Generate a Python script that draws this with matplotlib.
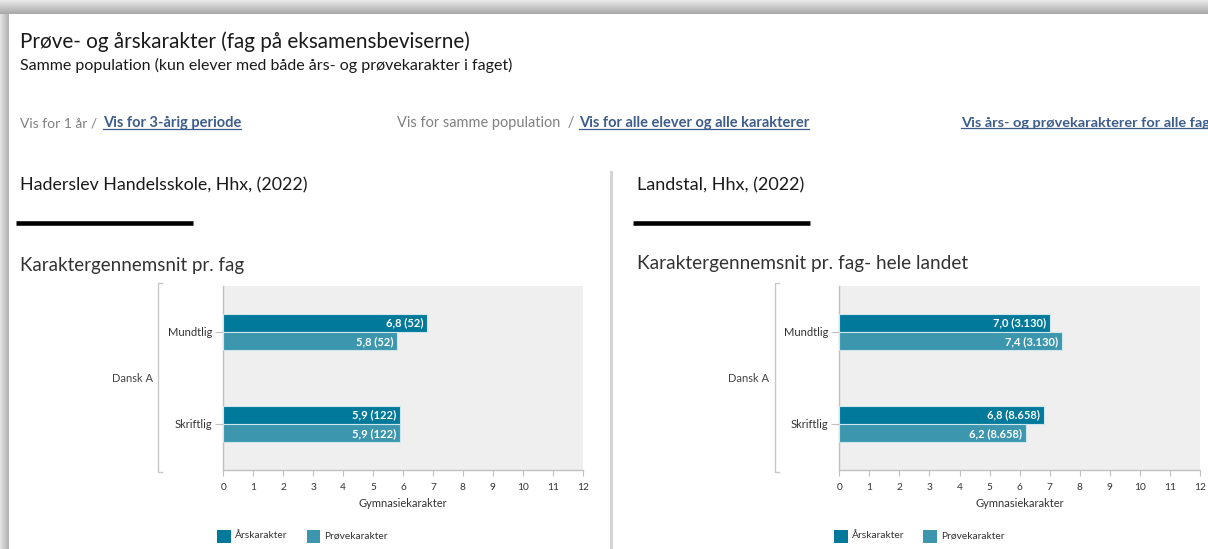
import numpy as np
import matplotlib
matplotlib.use("Agg")
import matplotlib.pyplot as plt
from matplotlib.patches import Rectangle
from matplotlib.lines import Line2D

# ---------------- data ----------------
categories = ["Mundtlig", "Skriftlig"]
group_label = "Dansk A"
series_names = ["Årskarakter", "Prøvekarakter"]

local_ars = [6.8, 5.9]
local_prove = [5.8, 5.9]
local_n = [52, 122]

land_ars = [7.0, 6.8]
land_prove = [7.4, 6.2]
land_n = [3130, 8658]

x_ticks = list(range(0, 13))
x_label = "Gymnasiekarakter"

title = "Prøve- og årskarakter (fag på eksamensbeviserne)"
subtitle = "Samme population (kun elever med både års- og prøvekarakter i faget)"
left_head = "Haderslev Handelsskole, Hhx, (2022)"
right_head = "Landstal, Hhx, (2022)"
left_chart_title = "Karaktergennemsnit pr. fag"
right_chart_title = "Karaktergennemsnit pr. fag- hele landet"

C_ARS = "#01799a"
C_PROVE = "#3c97ae"
C_LINK = "#3d5d8c"
C_GRAY = "#808080"
FONT = "Lato"

W, H = 1208, 549
plt.rcParams["font.family"] = [FONT, "DejaVu Sans"]
fig = plt.figure(figsize=(W / 100, H / 100), dpi=100)
fig.patch.set_facecolor("white")


def fx(x):
    return x / W


def fy(y):
    return 1 - y / H


renderer = fig.canvas.get_renderer()


def put_text(x, y, s, target_w=None, size=12, color="#222222", weight="normal",
             ha="left", underline=False):
    t = fig.text(fx(x), fy(y), s, fontsize=size, color=color, fontweight=weight,
                 ha=ha, va="center")
    if target_w is not None:
        bb = t.get_window_extent(renderer)
        t.set_fontsize(size * target_w / bb.width)
    if underline:
        bb = t.get_window_extent(renderer)
        yl = bb.y0 + 1.0
        fig.add_artist(Line2D([bb.x0 / W, bb.x1 / W], [yl / H, yl / H],
                              transform=fig.transFigure, color=color, lw=0.9))
    return t


# ---------------- screenshot shadow frame ----------------
ax_top = fig.add_axes([0, fy(14), 1, 14 / H])
ax_top.imshow(np.linspace(0.91, 0.66, 14)[:, None] * np.ones((14, 10)),
              cmap="gray", vmin=0, vmax=1, aspect="auto",
              extent=[0, 1, 0, 1], origin="upper")
ax_top.axis("off")
ax_left = fig.add_axes([0, 0, fx(9), fy(14)])
ax_left.imshow(np.ones((10, 9)) * np.linspace(0.88, 0.70, 9)[None, :],
               cmap="gray", vmin=0, vmax=1, aspect="auto",
               extent=[0, 1, 0, 1])
ax_left.axis("off")

# ---------------- page texts ----------------
put_text(20, 42, title, target_w=446, color="#1a1a1a")
put_text(20, 65, subtitle, target_w=490, color="#1a1a1a")

put_text(20, 123, "Vis for 1 år /", target_w=77, color=C_GRAY)
put_text(103, 123, "Vis for 3-årig periode", target_w=137, color=C_LINK,
         weight="bold", underline=True)
put_text(397, 123, "Vis for samme population  /", target_w=176, color=C_GRAY)
put_text(579, 123, "Vis for alle elever og alle karakterer", target_w=229,
         color=C_LINK, weight="bold", underline=True)
put_text(961, 123, "Vis års- og prøvekarakterer for alle fag", target_w=246,
         color=C_LINK, weight="bold", underline=True)

put_text(20, 185, left_head, target_w=287, color="#1a1a1a")
put_text(637, 185, right_head, target_w=166, color="#1a1a1a")
put_text(20, 265, left_chart_title, target_w=223, color="#333333")
put_text(637, 264, right_chart_title, target_w=329, color="#333333")

# black heading rules
for x0, x1 in [(16, 193), (633, 810)]:
    fig.add_artist(Line2D([fx(x0), fx(x1)], [fy(223), fy(223)],
                          transform=fig.transFigure, color="black", lw=3.3,
                          solid_capstyle="butt"))
# vertical divider
fig.add_artist(Line2D([fx(611), fx(611)], [fy(172), fy(549)],
                      transform=fig.transFigure, color="#d4d4d4", lw=2.2))


# ---------------- charts ----------------
def draw_chart(x_left, x_right, ars, prove, ns, bracket_x, group_x,
               leg_x):
    top, bottom = 286, 470
    ax = fig.add_axes([fx(x_left), fy(bottom), (x_right - x_left) / W,
                       (bottom - top) / H])
    ax.set_facecolor("#efefef")
    y = np.arange(len(categories))
    bh = 0.2
    ax.barh(y - bh / 2, ars, height=bh, color=C_ARS, edgecolor="#cfe6ec",
            linewidth=0.8, zorder=3)
    ax.barh(y + bh / 2, prove, height=bh, color=C_PROVE, edgecolor="#cfe6ec",
            linewidth=0.8, zorder=3)
    for yi, v, n in zip(y, ars, ns):
        lab = f"{v:.1f}".replace(".", ",") + " (" + f"{n:,}".replace(",", ".") + ")"
        ax.text(v - 0.12, yi - bh / 2, lab, ha="right", va="center",
                color="white", fontsize=8, fontweight="bold", zorder=4)
    for yi, v, n in zip(y, prove, ns):
        lab = f"{v:.1f}".replace(".", ",") + " (" + f"{n:,}".replace(",", ".") + ")"
        ax.text(v - 0.12, yi + bh / 2, lab, ha="right", va="center",
                color="white", fontsize=8, fontweight="bold", zorder=4)
    ax.set_xlim(0, 12)
    ax.set_ylim(len(categories) - 0.5, -0.5)
    ax.set_xticks(x_ticks)
    ax.set_xticklabels([str(t) for t in x_ticks], fontsize=7.3, color="#333333")
    ax.set_yticks(y)
    ax.set_yticklabels(categories, fontsize=8, color="#333333")
    ax.tick_params(axis="x", length=4, color="#c0c0c0", pad=5)
    ax.tick_params(axis="y", length=6, color="#c0c0c0", pad=2)
    for s in ["top", "right"]:
        ax.spines[s].set_visible(False)
    for s in ["left", "bottom"]:
        ax.spines[s].set_color("#c0c0c0")
        ax.spines[s].set_linewidth(1.0)
    ax.set_xlabel(x_label, fontsize=8, color="#333333", labelpad=5)

    # group label and bracket
    fig.text(fx(group_x), fy(378), group_label, fontsize=8, color="#444444",
             ha="center", va="center")
    bx = [fx(bracket_x + 4), fx(bracket_x), fx(bracket_x), fx(bracket_x + 4)]
    by = [fy(283), fy(283), fy(472), fy(472)]
    fig.add_artist(Line2D(bx, by, transform=fig.transFigure, color="#c8c8c8",
                          lw=1.0))

    # legend
    lx0, lx1 = leg_x
    for sx, name, c in [(lx0, series_names[0], C_ARS), (lx1, series_names[1], C_PROVE)]:
        fig.add_artist(Rectangle((fx(sx), fy(543)), 13.5 / W, 13.5 / H,
                                 transform=fig.transFigure, facecolor=c,
                                 edgecolor="none"))
        fig.text(fx(sx + 17.5), fy(536), name, fontsize=7.4, color="#333333",
                 ha="left", va="center")
    return ax


draw_chart(223.3, 582.7, local_ars, local_prove, local_n, 158, 133,
           (217.3, 306.7))
draw_chart(839.3, 1200, land_ars, land_prove, land_n, 775, 749,
           (834, 923.3))

fig.savefig("out.png", dpi=100)
